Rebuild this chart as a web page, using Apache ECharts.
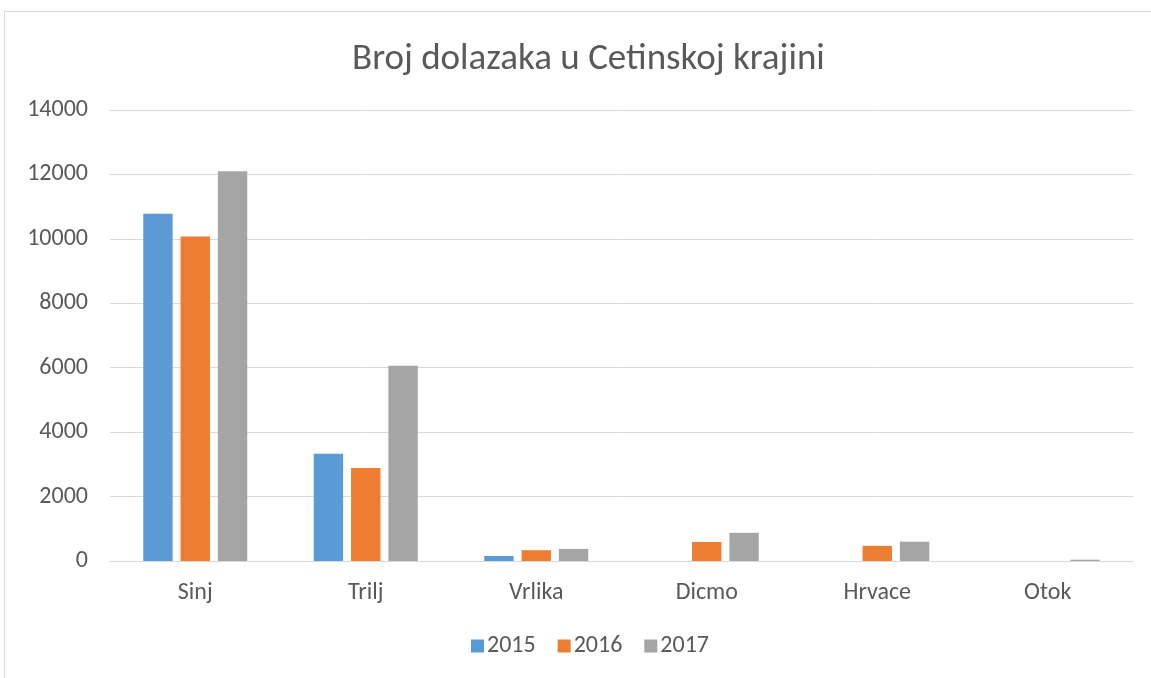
<!DOCTYPE html>
<html>
<head>
<meta charset="utf-8">
<script src="https://cdn.jsdelivr.net/npm/echarts@6/dist/echarts.min.js"></script>
<style>
  html, body { margin: 0; padding: 0; background: #fff; }
  #frame { position: absolute; left: 4px; top: 11px; width: 1160px; height: 680px; border: 1px solid #d9d9d9; box-sizing: border-box; }
  #main { position: absolute; left: 0; top: 0; width: 1151px; height: 678px; }
</style>
</head>
<body>
<div id="frame"></div>
<div id="main"></div>
<script>
// podaci
var categories = ['Sinj', 'Trilj', 'Vrlika', 'Dicmo', 'Hrvace', 'Otok'];
var years = ['2015', '2016', '2017'];
var data2015 = [10780, 3330, 155, 0, 0, 0];
var data2016 = [10070, 2890, 335, 590, 470, 0];
var data2017 = [12100, 6060, 375, 875, 600, 40];
var colors = ['#5b9bd5', '#ed7d31', '#a5a5a5'];

var chart = echarts.init(document.getElementById('main'), null, { renderer: 'canvas' });

var font = 'Calibri, Carlito, "Liberation Sans", "Open Sans", sans-serif';

function bar(name, values) {
  return {
    name: name,
    type: 'bar',
    data: values,
    barGap: '27%',
    barCategoryGap: '39%'
  };
}

var option = {
  backgroundColor: 'transparent',
  color: colors,
  textStyle: { fontFamily: font },
  title: {
    text: 'Broj dolazaka u Cetinskoj krajini',
    left: 347,
    top: 36,
    textStyle: { fontSize: 37, fontWeight: 'normal', color: '#595959', fontFamily: font }
  },
  legend: {
    bottom: 15,
    left: 466,
    itemWidth: 13,
    itemHeight: 13,
    itemGap: 22,
    icon: 'rect',
    textStyle: { fontSize: 24, color: '#595959', fontFamily: font, padding: [0, 0, 0, -2] },
    data: years
  },
  grid: { left: 110, right: 18, top: 110, bottom: 117 },
  xAxis: {
    type: 'category',
    data: categories,
    axisLine: { lineStyle: { color: '#d9d9d9', width: 1 } },
    axisTick: { show: false },
    axisLabel: { fontSize: 24, color: '#595959', margin: 20 }
  },
  yAxis: {
    type: 'value',
    min: 0,
    max: 14000,
    interval: 2000,
    axisLine: { show: false },
    axisTick: { show: false },
    axisLabel: {
      fontSize: 24,
      color: '#595959',
      margin: 22,
      formatter: function (v) { return String(v); }
    },
    splitLine: { lineStyle: { color: '#d9d9d9', width: 1 } }
  },
  series: [
    bar(years[0], data2015),
    bar(years[1], data2016),
    bar(years[2], data2017)
  ]
};

chart.setOption(option);
</script>
</body>
</html>
